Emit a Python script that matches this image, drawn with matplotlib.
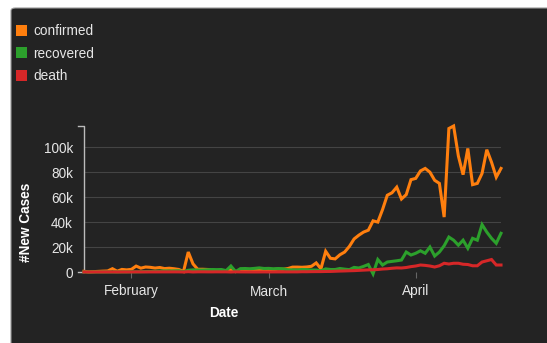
import matplotlib
matplotlib.use('Agg')
import matplotlib.pyplot as plt
import matplotlib.dates as mdates
from matplotlib.patches import Rectangle, FancyBboxPatch
from matplotlib.ticker import FuncFormatter
import pandas as pd

# Daily new cases worldwide, 2020-01-22 .. 2020-04-19
start_date = '2020-01-22'
confirmed = [
    550, 100, 290, 490, 680, 810, 2650, 590, 2070, 1690,
    2110, 4750, 3090, 4010, 3740, 3160, 3600, 2730, 3030, 2610,
    2040, 420, 16000, 6520, 2150, 2190, 2030, 1880, 500, 560,
    620, 1750, 390, 590, 850, 930, 1180, 1390, 1740, 1770,
    1980, 2340, 2250, 2750, 3910, 3940, 3790, 4030, 4560, 7270,
    2560, 16600, 11000, 10500, 13800, 16000, 20500, 26500, 29500, 32000,
    33500, 41000, 40000, 50000, 61500, 63500, 68000, 58500, 62000, 74000,
    75000, 81000, 83000, 80000, 73500, 71000, 44000, 115000, 117000, 93000,
    78000, 99000, 70000, 71000, 79000, 98000, 88000, 76000, 83000,
]
recovered = [
    30, 0, 10, 10, 20, 50, 40, 20, 80, 100,
    200, 150, 250, 350, 450, 500, 700, 900, 800, 900,
    1000, 300, 1400, 1700, 1600, 1600, 1800, 2000, 1900, 2000,
    1100, 4800, 300, 2700, 2800, 2600, 2900, 3300, 2800, 2900,
    2600, 2800, 2600, 1800, 1700, 1600, 2000, 1900, 1600, 1600,
    1000, 2500, 2000, 2000, 2800, 2300, 1900, 3700, 3200, 4500,
    6000, -1500, 10000, 5600, 8000, 8500, 9000, 9600, 16000, 13600,
    15000, 17000, 15000, 20000, 12800, 16000, 21000, 28000, 25500, 21500,
    25500, 19000, 27000, 25500, 38000, 32000, 27000, 23000, 31000,
]
death = [
    17, 1, 8, 16, 14, 26, 49, 2, 38, 42,
    46, 103, 64, 66, 72, 70, 85, 87, 100, 107,
    100, 5, 254, 13, 143, 142, 106, 98, 139, 115,
    125, 4, 150, 79, 62, 44, 38, 55, 86, 60,
    71, 82, 96, 100, 106, 99, 228, 210, 287, 317,
    335, 420, 450, 600, 750, 850, 1000, 1100, 1300, 1500,
    1700, 1800, 2000, 2400, 2600, 3000, 3300, 3200, 3600, 4300,
    4800, 5600, 5300, 4800, 4000, 5000, 7000, 6400, 7000, 7000,
    6200, 6000, 5000, 5000, 8000, 9000, 10000, 5600, 5600,
]
series_names = ['confirmed', 'recovered', 'death']
series_colors = ['#ff7f0e', '#2ca02c', '#d62728']
y_ticks = [0, 20000, 40000, 60000, 80000, 100000]

plt.rcParams['font.family'] = ['Liberation Sans', 'DejaVu Sans']

dates = pd.date_range(start_date, periods=len(confirmed))
panel_color = '#232323'
text_color = '#e6e6e6'
fs = 9.8

fig = plt.figure(figsize=(5.47, 3.43), dpi=100)
fig.patch.set_facecolor('white')
W, H = 547.0, 343.0

# dark panel behind everything
panel = FancyBboxPatch((11 / W, -0.1), 1.2, (335 / H) + 0.1,
                       boxstyle='round,pad=0,rounding_size=0.008',
                       transform=fig.transFigure, facecolor=panel_color,
                       edgecolor='#9a9a9a', linewidth=0.8, zorder=0)
fig.add_artist(panel)

ax = fig.add_axes([84 / W, 1 - 272 / H, (501 - 84) / W, (272 - 126) / H])
ax.set_facecolor('none')
for s in ax.spines.values():
    s.set_visible(False)

for vals, name, col in zip([confirmed, recovered, death], series_names, series_colors):
    ax.plot(dates, vals, color=col, linewidth=2.2, solid_joinstyle='miter',
            clip_on=False, zorder=3, label=name)

ax.set_xlim(dates[0], dates[-1])
ax.set_ylim(0, max(confirmed))

# y axis: gridlines, labels, bracket-shaped domain line
ax.set_yticks(y_ticks)
ax.yaxis.set_major_formatter(FuncFormatter(
    lambda v, p: '0' if v == 0 else f'{v / 1000:.0f}k'))
ax.tick_params(axis='y', length=0, pad=8, labelsize=fs, labelcolor=text_color)
for t in y_ticks[1:]:
    ax.axhline(t, color='#444444', linewidth=0.8, zorder=1)
tk = 6 / (501 - 84)
ax.plot([-tk, 0, 0, -tk], [1, 1, 0, 0], transform=ax.transAxes,
        color='#bbbbbb', linewidth=1.0, clip_on=False, zorder=2)

# x axis: month ticks
ax.xaxis.set_major_locator(mdates.MonthLocator())
ax.xaxis.set_major_formatter(mdates.DateFormatter('%B'))
ax.tick_params(axis='x', length=4, width=0.8, color='#666666', pad=5,
               labelsize=fs, labelcolor=text_color)

fig.text(224 / W, 1 - 313 / H, 'Date', color='white', fontsize=fs,
         fontweight='bold', ha='center', va='center')
fig.text(26 / W, 1 - 222 / H, '#New Cases', color='white', fontsize=fs,
         fontweight='bold', ha='center', va='center', rotation=90)

# legend in the top-left corner
for i, (name, col) in enumerate(zip(series_names, series_colors)):
    yc = 30 + i * 22.5
    fig.add_artist(Rectangle((16 / W, 1 - (yc + 5.5) / H), 11 / W, 11 / H,
                             transform=fig.transFigure, facecolor=col,
                             edgecolor='none'))
    fig.text(33 / W, 1 - (yc + 1) / H, name, color=text_color, fontsize=fs,
             ha='left', va='center')

fig.savefig('out.png', dpi=100, facecolor='white')
